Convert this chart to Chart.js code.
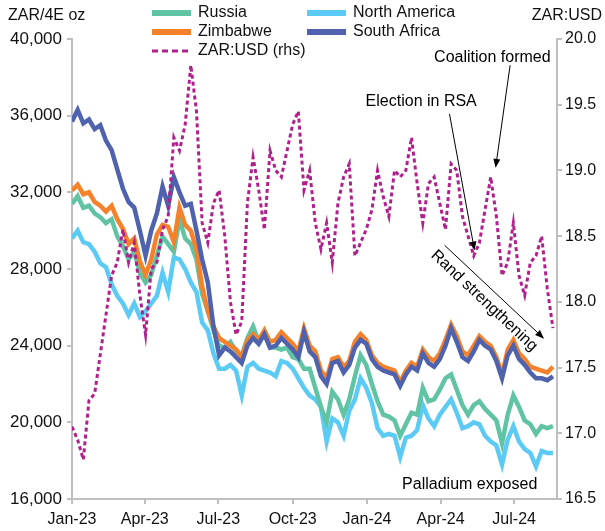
<!DOCTYPE html>
<html>
<head>
<meta charset="utf-8">
<script src="https://cdn.jsdelivr.net/npm/chart.js@4.4.1/dist/chart.umd.min.js"></script>
<style>
    html, body { margin: 0; padding: 0; background: #fff; }
    #wrap { width: 605px; height: 531px; position: relative; }
</style>
</head>
<body>
<div id="wrap"><canvas id="pgm-chart"></canvas></div>
<script>
// Days since 1 Jan 2023, one point a week
const dayIndex = [
    0, 7, 14, 21, 28, 35, 42, 49, 56, 63,
    70, 77, 84, 91, 98, 105, 112, 119, 126, 133,
    140, 147, 154, 161, 168, 175, 182, 189, 196, 203,
    210, 217, 224, 231, 238, 245, 252, 259, 266, 273,
    280, 287, 294, 301, 308, 315, 322, 329, 336, 343,
    350, 357, 364, 371, 378, 385, 392, 399, 406, 413,
    420, 427, 434, 441, 448, 455, 462, 469, 476, 483,
    490, 497, 504, 511, 518, 525, 532, 539, 546, 553,
    560, 567, 574, 581, 588, 595
];

// Quarter tick positions and labels
const quarterTicks = [0, 90, 181, 273, 365, 456, 547];
const quarterLabels = ['Jan-23', 'Apr-23', 'Jul-23', 'Oct-23', 'Jan-24', 'Apr-24', 'Jul-24'];

// Basket price, ZAR per 4E oz
const russia = [
    31400, 31800, 31200, 31300, 30900, 30700, 30400, 30600, 29700, 29200,
    28500, 28900, 27800, 27300, 27700, 28700, 29700, 29300, 28900, 30600,
    29600, 29300, 28500, 26700, 25800, 24800, 24000, 23900, 24200, 23700,
    23500, 24400, 25000, 24200, 24600, 23900, 23900, 23800, 23900, 23400,
    23300, 22800, 22800, 21800, 20800, 20000, 21600, 21200, 20400, 21200,
    22400, 23500, 23000, 22000, 21100, 20400, 20300, 20100, 19300, 19900,
    20500, 20400, 21800, 21100, 21200, 21700, 22300, 22500, 21700, 20900,
    20400, 20900, 21100, 20700, 20400, 20100, 18900, 20400, 21400, 20800,
    20100, 19900, 19400, 19800, 19700, 19800
];
const zimbabwe = [
    32100, 32400, 31900, 32000, 31500, 31300, 31000, 31300, 30600, 30100,
    29300, 29600, 28400, 27700, 28500, 29800, 30300, 30200, 29400, 31200,
    30300, 30000, 29000, 27100, 25800, 25000, 24400, 24200, 24000, 23800,
    23400, 24300, 24600, 24300, 24800, 24200, 24300, 24700, 24400, 24100,
    23700, 24900, 24000, 23700, 22700, 22300, 23300, 23400, 22900, 23200,
    24200, 24600, 24300, 23500, 23100, 22900, 22800, 22700, 22100, 22700,
    23100, 22900, 23800, 23400, 23200, 23600, 24300, 25100, 24500, 23700,
    23500, 24000, 24500, 24200, 24000, 23400, 22500, 23800, 24300, 23600,
    23300, 22900, 22800, 22700, 22600, 22900
];
const northAmerica = [
    29600, 30000, 29400, 29300, 28900, 28300, 28100, 27200, 26600, 26200,
    25600, 26200, 25500, 25800, 26200, 26600, 27800, 26800, 28600, 28500,
    28000, 27300, 26800, 25200, 24800, 23600, 22800, 22800, 23000, 22700,
    21400, 22900, 23100, 22800, 22700, 22600, 22400, 23200, 23100, 22800,
    22300, 21800, 21400, 21200, 20800, 19000, 20200, 20000, 19300, 20600,
    21200, 22300, 21800, 21000, 19700, 19300, 19400, 19300, 18200, 19200,
    19300, 19600, 20900, 20200, 19800, 20400, 20800, 21200, 20500, 19700,
    19800, 20000, 19900, 19300, 19000, 18800, 17800, 19100, 19800, 19000,
    18600, 18400, 17700, 18500, 18400, 18400
];
const southAfrica = [
    35700, 36300, 35600, 35800, 35300, 35500, 34700, 34200, 33200, 32200,
    31500, 31200, 30000, 28700, 30000, 30900, 32300, 31300, 32800, 32000,
    31300, 31400, 30000, 28500, 27300, 25000, 23500, 23900, 23700, 23400,
    23100, 24000, 24400, 24100, 24600, 23900, 24000, 24400, 24100, 23800,
    23400, 24700, 23700, 23400, 22400, 22000, 23100, 23200, 22600, 23000,
    23900, 24300, 24100, 23300, 22900, 22700, 22600, 22500, 21900, 22500,
    22900, 22700, 23600, 23100, 22900, 23300, 24000, 24900, 24200, 23400,
    23200, 23700, 24300, 24000, 23800, 23200, 22300, 23500, 24000, 23300,
    23000, 22600, 22300, 22300, 22200, 22400
];

// Rand per dollar (rhs)
const zarUsd = [
    17.05, 16.95, 16.80, 17.25, 17.30, 17.60, 17.90, 18.20, 18.30, 18.55,
    18.30, 18.45, 18.05, 17.75, 18.25, 18.30, 18.55, 18.65, 19.25, 19.15,
    19.35, 19.80, 19.45, 18.60, 18.45, 18.75, 18.85, 18.50, 18.00, 17.75,
    17.85, 18.75, 19.10, 18.85, 18.55, 19.15, 19.00, 18.95, 19.15, 19.35,
    19.45, 18.85, 19.00, 18.60, 18.40, 18.60, 18.30, 18.75, 18.95, 19.05,
    18.35, 18.45, 18.55, 18.70, 19.00, 18.80, 18.65, 19.00, 18.95, 19.00,
    19.25, 18.90, 18.60, 18.90, 18.95, 18.75, 18.55, 19.05, 19.00, 18.65,
    18.50, 18.35, 18.45, 18.70, 18.95, 18.65, 18.20, 18.30, 18.60, 18.20,
    18.05, 18.30, 18.35, 18.50, 18.10, 17.80
];

// Colours
const colors = {
    russia: '#5fc3a4',
    zimbabwe: '#f5822a',
    northAmerica: '#5bcbf5',
    southAfrica: '#4e62ae',
    zar: '#b0208c',
    axis: '#bfbfbf',
    text: '#111'
};

const FONT = "'Liberation Sans', Arial, sans-serif";

function toPoints(values) {
    return values.map((v, i) => ({ x: dayIndex[i], y: v }));
}

function lineSet(label, values, color, order) {
    return {
        label: label,
        data: toPoints(values),
        borderColor: color,
        borderWidth: 4.5,
        pointRadius: 0,
        tension: 0,
        yAxisID: 'y',
        order: order
    };
}

// Arrow helper
function drawArrow(ctx, x1, y1, x2, y2) {
    const ang = Math.atan2(y2 - y1, x2 - x1);
    const len = 9, half = 3.5;
    ctx.beginPath();
    ctx.moveTo(x1, y1);
    ctx.lineTo(x2 - Math.cos(ang) * len * 0.8, y2 - Math.sin(ang) * len * 0.8);
    ctx.stroke();
    ctx.beginPath();
    ctx.moveTo(x2, y2);
    ctx.lineTo(x2 - Math.cos(ang) * len - Math.sin(ang) * half, y2 - Math.sin(ang) * len + Math.cos(ang) * half);
    ctx.lineTo(x2 - Math.cos(ang) * len + Math.sin(ang) * half, y2 - Math.sin(ang) * len - Math.cos(ang) * half);
    ctx.closePath();
    ctx.fill();
}

// Legend, axis titles and notes
const overlayPlugin = {
    id: 'overlay',
    afterDraw(chart) {
        const { ctx, scales } = chart;
        const x = scales.x, r = scales.y1;
        ctx.save();
        ctx.font = `16px ${FONT}`;
        ctx.fillStyle = colors.text;
        ctx.textBaseline = 'middle';

        // Axis titles
        ctx.textAlign = 'left';
        ctx.fillText('ZAR/4E oz', 8, 16);
        ctx.textAlign = 'right';
        ctx.fillText('ZAR:USD', 602, 16);

        // Legend
        const legendItems = [
            { label: 'Russia', color: colors.russia, x: 152, y: 13 },
            { label: 'Zimbabwe', color: colors.zimbabwe, x: 152, y: 32 },
            { label: 'ZAR:USD (rhs)', color: colors.zar, x: 152, y: 51, dashed: true },
            { label: 'North America', color: colors.northAmerica, x: 307, y: 13 },
            { label: 'South Africa', color: colors.southAfrica, x: 307, y: 32 }
        ];
        legendItems.forEach(item => {
            ctx.strokeStyle = item.color;
            if (item.dashed) {
                ctx.lineWidth = 3;
                ctx.setLineDash([6, 4]);
            } else {
                ctx.lineWidth = 6;
                ctx.setLineDash([]);
            }
            ctx.beginPath();
            ctx.moveTo(item.x, item.y);
            ctx.lineTo(item.x + 39, item.y);
            ctx.stroke();
            ctx.setLineDash([]);
            ctx.textAlign = 'left';
            ctx.fillStyle = colors.text;
            ctx.fillText(item.label, item.x + 46, item.y);
        });

        // Notes
        ctx.strokeStyle = '#000';
        ctx.fillStyle = '#000';
        ctx.lineWidth = 1;
        ctx.textAlign = 'center';

        ctx.fillText('Coalition formed', x.getPixelForValue(520), r.getPixelForValue(19.86));
        drawArrow(ctx, x.getPixelForValue(542), r.getPixelForValue(19.80),
            x.getPixelForValue(524), r.getPixelForValue(19.02));

        ctx.fillText('Election in RSA', x.getPixelForValue(432), r.getPixelForValue(19.52));
        drawArrow(ctx, x.getPixelForValue(467), r.getPixelForValue(19.43),
            x.getPixelForValue(498), r.getPixelForValue(18.39));

        const rx1 = x.getPixelForValue(461), ry1 = r.getPixelForValue(18.43);
        const rx2 = x.getPixelForValue(584), ry2 = r.getPixelForValue(17.72);
        drawArrow(ctx, rx1, ry1, rx2, ry2);
        const ang = Math.atan2(ry2 - ry1, rx2 - rx1);
        ctx.save();
        ctx.translate((rx1 + rx2) / 2 - Math.sin(ang) * 12 - 2, (ry1 + ry2) / 2 + Math.cos(ang) * 12);
        ctx.rotate(ang);
        ctx.fillText('Rand strengthening', 0, 0);
        ctx.restore();

        ctx.fillText('Palladium exposed', x.getPixelForValue(492), r.getPixelForValue(16.61));
        ctx.restore();
    }
};

function initChart() {
    const ctx = document.getElementById('pgm-chart').getContext('2d');
    const axisGrid = {
        display: true,
        drawOnChartArea: false,
        drawTicks: true,
        tickLength: 5,
        color: colors.axis,
        lineWidth: 2
    };
    const axisBorder = { display: true, color: colors.axis, width: 2 };

    new Chart(ctx, {
        type: 'line',
        data: {
            datasets: [
                {
                    label: 'ZAR:USD (rhs)',
                    data: toPoints(zarUsd),
                    borderColor: colors.zar,
                    borderWidth: 3,
                    borderDash: [4, 3],
                    pointRadius: 0,
                    tension: 0,
                    yAxisID: 'y1',
                    order: 0
                },
                lineSet('South Africa', southAfrica, colors.southAfrica, 1),
                lineSet('Zimbabwe', zimbabwe, colors.zimbabwe, 2),
                lineSet('Russia', russia, colors.russia, 3),
                lineSet('North America', northAmerica, colors.northAmerica, 4)
            ]
        },
        options: {
            responsive: true,
            maintainAspectRatio: false,
            animation: false,
            layout: { padding: { top: 39, left: 0, right: 0, bottom: 0 } },
            plugins: {
                legend: { display: false },
                tooltip: { enabled: false }
            },
            scales: {
                x: {
                    type: 'linear',
                    min: 0,
                    max: 600,
                    grid: axisGrid,
                    border: axisBorder,
                    afterBuildTicks: (axis) => {
                        axis.ticks = quarterTicks.map(v => ({ value: v }));
                    },
                    afterFit: (axis) => { axis.height = 32; },
                    ticks: {
                        autoSkip: false,
                        maxRotation: 0,
                        padding: 6,
                        color: colors.text,
                        font: { family: FONT, size: 16 },
                        callback: (value) => quarterLabels[quarterTicks.indexOf(value)]
                    }
                },
                y: {
                    position: 'left',
                    min: 16000,
                    max: 40000,
                    grid: axisGrid,
                    border: axisBorder,
                    afterFit: (axis) => { axis.width = 72; },
                    ticks: {
                        stepSize: 4000,
                        padding: 5,
                        color: colors.text,
                        font: { family: FONT, size: 17 },
                        callback: (value) => value.toLocaleString('en-US')
                    }
                },
                y1: {
                    position: 'right',
                    min: 16.5,
                    max: 20,
                    grid: axisGrid,
                    border: axisBorder,
                    afterFit: (axis) => { axis.width = 48; },
                    ticks: {
                        stepSize: 0.5,
                        padding: 3,
                        color: colors.text,
                        font: { family: FONT, size: 16 },
                        callback: (value) => value.toFixed(1)
                    }
                }
            }
        },
        plugins: [overlayPlugin]
    });
}

document.addEventListener('DOMContentLoaded', initChart);
</script>
</body>
</html>
